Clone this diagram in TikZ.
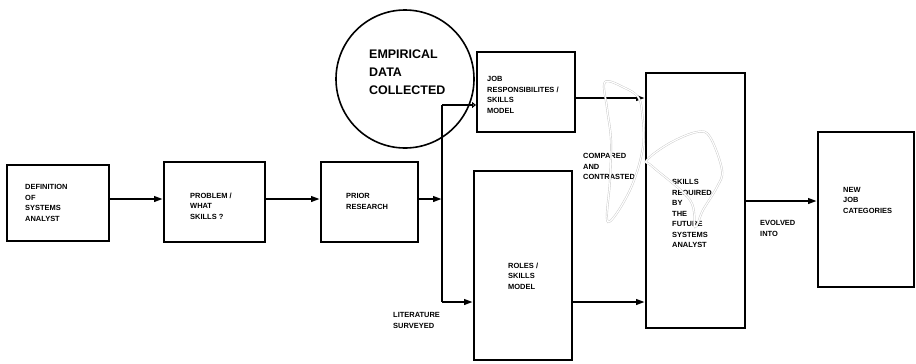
\documentclass[tikz,border=0pt]{standalone}
\usepackage{fontspec}
\setmainfont{Liberation Sans}
\usetikzlibrary{arrows.meta}
\begin{document}
\begin{tikzpicture}[x=1bp,y=-1bp,
  box/.style={draw,line width=2bp,inner sep=0,rectangle},
  lbl/.style={anchor=north west,inner sep=0,align=left,font=\bfseries\fontsize{7.5}{10.5}\selectfont},
  conn/.style={line width=2.3bp},
  arr/.style={conn,-{Triangle[length=9bp,width=5.5bp]}},
  tick/.style={conn,-{Triangle[length=4bp,width=6bp,open]}},
  scrib/.style={draw=gray!45,line width=0.4bp,double=white,double distance=1.2bp},
]
\useasboundingbox (0,0) rectangle (916,363);
\fill[white] (0,0) rectangle (916,363);

% boxes
\node[box,minimum width=102bp,minimum height=76bp] (b1) at (58,203) {};
\node[box,minimum width=101bp,minimum height=80bp] (b2) at (214.5,202) {};
\node[box,minimum width=97bp,minimum height=80bp] (b3) at (369.5,202) {};
\node[box,minimum width=98bp,minimum height=80bp] (job) at (526,92) {};
\node[box,minimum width=98bp,minimum height=189bp] (roles) at (523,265.5) {};
\node[box,minimum width=99bp,minimum height=255bp] (skills) at (695.5,200.5) {};
\node[box,minimum width=96bp,minimum height=155bp] (new) at (866,209.5) {};

% circle
\node[draw,circle,line width=1.6bp,minimum size=138bp,inner sep=0] (emp) at (405,79) {};
\node[anchor=north west,inner sep=0,align=left,font=\bfseries\fontsize{12.5}{18}\selectfont] (empt) at (369,50) {EMPIRICAL\\DATA\\COLLECTED};

% junctions
\coordinate (jt) at (442,105);
\coordinate (jm) at (442,199);
\coordinate (jb) at (442,302);

% connectors
\draw[arr] (b1.east |- jm) -- (b2.west |- jm);
\draw[arr] (b2.east |- jm) -- (b3.west |- jm);
\draw[arr] (b3.east |- jm) -- (jm);
\draw[conn] (jt) -- (jb);
\draw[tick] (jt) -- (job.west |- jt);
\draw[arr] (jb) -- (roles.west |- jb);
\coordinate (jo) at (600,98);
\draw[arr] (job.east |- jo) -- (skills.west |- jo);
\draw[arr] (roles.east |- jb) -- (skills.west |- jb);
\coordinate (so) at (780,201);
\draw[arr] (skills.east |- so) -- (new.west |- so);

% labels
\node[lbl] (t1) at (25,184.5) {DEFINITION\\OF\\SYSTEMS\\ANALYST};
\node[lbl] (t2) at (190,192.5) {PROBLEM /\\WHAT\\SKILLS ?};
\node[lbl] (t3) at (346,193.5) {PRIOR\\RESEARCH};
\node[lbl] (tjob) at (487,76.5) {JOB\\RESPONSIBILITES /\\SKILLS\\MODEL};
\node[lbl] (troles) at (508,262.5) {ROLES /\\SKILLS\\MODEL};
\node[lbl] (tcomp) at (583,153.5) {COMPARED\\AND\\CONTRASTED};
\node[lbl] (tskills) at (672,179.5) {SKILLS\\REQUIRED\\BY\\THE\\FUTURE\\SYSTEMS\\ANALYST};
\node[lbl] (tevo) at (760,220.5) {EVOLVED\\INTO};
\node[lbl] (tnew) at (843,187) {NEW\\JOB\\CATEGORIES};
\node[lbl] (tlit) at (393,312.5) {LITERATURE\\SURVEYED};

% faint hand-drawn loops
\draw[scrib] plot[smooth cycle,tension=0.6] coordinates {(605,82) (625,88) (638,97) (642,112) (643,147) (630,190) (608,222) (610,180) (611,140) (607,108)};
\draw[scrib] plot[smooth cycle,tension=0.6] coordinates {(647,160) (670,143) (697,132) (710,137) (722,170) (717,187) (703,210) (695,227) (690,200) (653,167)};
\end{tikzpicture}
\end{document}
